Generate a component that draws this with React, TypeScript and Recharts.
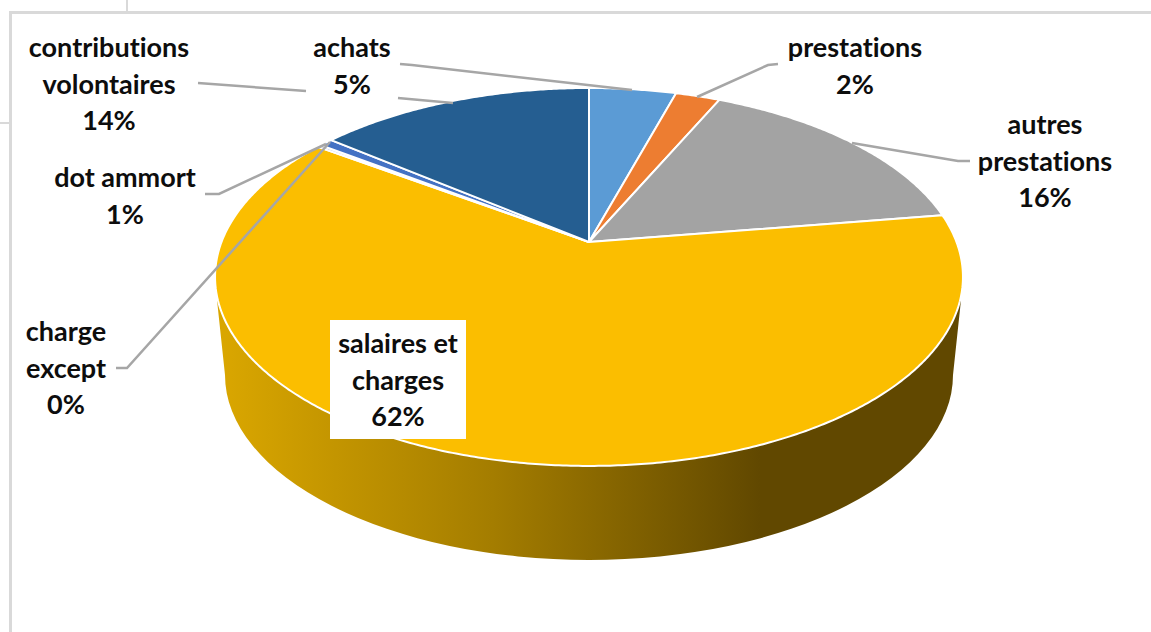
import React from 'react';
import { PieChart, Pie } from 'recharts';

// Slices, clockwise from 12 o'clock
const sliceNames = ['achats', 'prestations', 'autres prestations', 'salaires et charges', 'charge except', 'dot ammort', 'contributions volontaires'];
const sliceValues = [4.5, 2.3, 15.8, 62.2, 0.2, 0.7, 14.3];
const sliceColors = ['#5b9bd5', '#ed7d31', '#a3a3a3', '#fbbe00', '#4472c4', '#4472c4', '#255e91'];

// Label text lines
const labelLines = [
  ['achats'],
  ['prestations'],
  ['autres', 'prestations'],
  ['salaires et', 'charges'],
  ['charge', 'except'],
  ['dot ammort'],
  ['contributions', 'volontaires'],
];

// Label placement: centre x, first baseline y
const labelPos = [
  [352, 57],
  [855, 57],
  [1045, 134],
  [398, 353],
  [66, 341],
  [125, 187],
  [109, 57],
];

// Hand drawn leader lines, one list of polylines per slice
const leaders = [
  ['400,64 412,65 632,90'],
  ['778,64 768,65 697,97'],
  ['970,161 958,161 852,143'],
  [],
  ['116,368 127,368 330,142'],
  ['205,194 219,194 326,144'],
  ['198,83 306,91', '398,98 453,103'],
];

const data = sliceNames.map((name, i) => ({ name, value: sliceValues[i], fill: sliceColors[i] }));

const WIDTH = 1151;
const HEIGHT = 632;
const LINE_HEIGHT = 36.5;

// The plate is seen in perspective: the apex sits above the middle of the ellipse
const SQUASH = 0.4966;
const PERSPECTIVE = 0.185;

const project = (cx: number, cy: number, r: number, deg: number) => {
  const a = (deg * Math.PI) / 180;
  const w = 1 + PERSPECTIVE * Math.sin(a);
  return [cx + (r * Math.cos(a)) / w, cy - (r * SQUASH * Math.sin(a)) / w];
};

const renderSlice = (props: any) => {
  const { cx, cy, outerRadius, startAngle, endAngle, fill, percent } = props;
  const steps = Math.max(2, Math.ceil(Math.abs(endAngle - startAngle) * 2));
  const pts = [];
  for (let i = 0; i <= steps; i++) {
    const deg = startAngle + ((endAngle - startAngle) * i) / steps;
    pts.push(project(cx, cy, outerRadius, deg).map(n => n.toFixed(2)).join(','));
  }
  return (
    <g>
      {/* the big slice carries the side wall, which only shows under it */}
      {percent > 0.5 && (
        <path d="M217,300 L225,375 A364,185 0 0 0 953,375 L961,300 Z" fill="url(#wall)" />
      )}
      <path d={`M${cx},${cy} L${pts.join(' L')} Z`} fill={fill} stroke="#fff" strokeWidth={2} strokeLinejoin="round" />
    </g>
  );
};

const renderLabel = (props: any) => {
  const { index, value } = props;
  const [x, y] = labelPos[index];
  const lines = [...labelLines[index], `${Math.round(value)}%`];
  return (
    <g key={index}>
      {leaders[index].map((p, i) => (
        <polyline key={i} points={p} fill="none" stroke="#a6a6a6" strokeWidth={2.5} />
      ))}
      {index === 3 && <rect x={330} y={320} width={136} height={119} fill="#fff" />}
      <text
        x={x}
        y={y}
        textAnchor="middle"
        fontFamily="Lato"
        fontWeight={700}
        fontSize={27}
        fill="#0d0d0d"
        style={{ fontVariantLigatures: 'none' }}
      >
        {lines.map((t, i) => (
          <tspan key={i} x={x} y={y + i * LINE_HEIGHT}>{t}</tspan>
        ))}
      </text>
    </g>
  );
};

const frame = '#d9d9d9';

export default function App() {
  return (
    <div style={{ position: 'absolute', left: 0, top: 0, width: WIDTH, height: HEIGHT, background: '#fff', overflow: 'hidden' }}>
      <div style={{ position: 'absolute', left: 9, top: 11, width: WIDTH, height: 3, background: frame }} />
      <div style={{ position: 'absolute', left: 9, top: 11, width: 3, height: HEIGHT, background: frame }} />
      <div style={{ position: 'absolute', left: 126, top: 0, width: 2, height: 12, background: frame }} />
      <div style={{ position: 'absolute', left: 0, top: 122, width: 10, height: 2, background: frame }} />
      <div style={{ position: 'absolute', left: 0, top: 0 }}>
        <PieChart width={WIDTH} height={HEIGHT} margin={{ top: 0, right: 0, bottom: 0, left: 0 }}>
          <defs>
            <linearGradient id="wall" gradientUnits="userSpaceOnUse" x1={225} y1={0} x2={760} y2={0}>
              <stop offset="0" stopColor="#d9a600" />
              <stop offset="0.5" stopColor="#a47d00" />
              <stop offset="1" stopColor="#614800" />
            </linearGradient>
          </defs>
          <Pie
            data={data}
            dataKey="value"
            nameKey="name"
            cx={589}
            cy={242}
            outerRadius={367.5}
            startAngle={90}
            endAngle={-270}
            shape={renderSlice}
            label={renderLabel}
            labelLine={false}
            isAnimationActive={false}
          />
        </PieChart>
      </div>
    </div>
  );
}
